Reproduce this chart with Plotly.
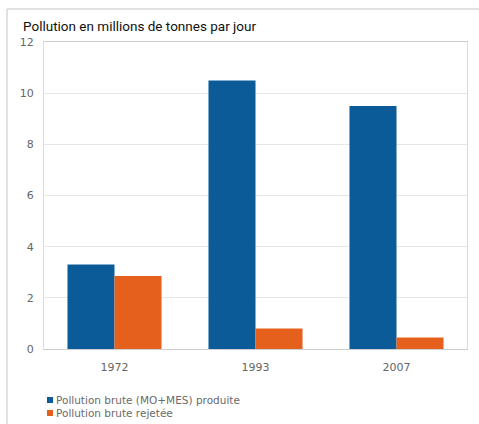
import plotly.graph_objects as go

years = ["1972", "1993", "2007"]
produite = [3.3, 10.5, 9.5]
rejetee = [2.85, 0.8, 0.45]
y_ticks = [0, 2, 4, 6, 8, 10, 12]

series_names = ["Pollution brute (MO+MES) produite", "Pollution brute rejetée"]
colors = ["#0b5b98", "#e5601d"]

fig = go.Figure()
fig.add_trace(go.Bar(x=years, y=produite, name=series_names[0],
                     marker=dict(color=colors[0], line=dict(width=0))))
fig.add_trace(go.Bar(x=years, y=rejetee, name=series_names[1],
                     marker=dict(color=colors[1], line=dict(width=0))))

W, H = 479, 424
L, R, T, B = 44, 12, 42, 75
pw, ph = W - L - R, H - T - B

def px_x(p):
    return (p - L) / pw

def px_y(p):
    return (H - B - p) / ph

# compact legend: small colour square followed by its label
legend_shapes, legend_notes = [], []
for i, (name, col) in enumerate(zip(series_names, colors)):
    cy = 400 + 13 * i
    legend_shapes.append(dict(type="rect", xref="paper", yref="paper",
                              x0=px_x(47), x1=px_x(53), y0=px_y(cy + 3), y1=px_y(cy - 3),
                              fillcolor=col, line=dict(width=0)))
    legend_notes.append(dict(text=name, xref="paper", yref="paper",
                             x=px_x(54), y=px_y(cy), xanchor="left", yanchor="middle",
                             showarrow=False,
                             font=dict(family="DejaVu Sans, sans-serif", size=10.5,
                                       color="#6a6a6a")))

fig.update_layout(
    width=W, height=H,
    margin=dict(l=L, r=R, t=T, b=B, pad=0, autoexpand=False),
    paper_bgcolor="white", plot_bgcolor="white",
    barmode="group", bargap=0.333, bargroupgap=0,
    font=dict(family="DejaVu Sans, sans-serif", size=10, color="#666666"),
    showlegend=False,
    xaxis=dict(showgrid=False, showline=True, linecolor="#cfcfcf", linewidth=1,
               mirror=True, ticks="", tickfont=dict(size=11, color="#666666"),
               ticklabelstandoff=8),
    yaxis=dict(range=[0, 12], tickvals=y_ticks, showgrid=True, gridcolor="#e6e6e6",
               gridwidth=1, showline=True, linecolor="#dcdcdc", mirror=True,
               zeroline=False, ticks="", tickfont=dict(size=11, color="#666666"),
               ticklabelstandoff=7),
    annotations=[dict(text="Pollution en millions de tonnes par jour",
                      xref="paper", yref="paper", x=px_x(21), y=px_y(26),
                      xanchor="left", yanchor="middle", showarrow=False,
                      font=dict(family="Roboto, sans-serif", size=13.5, color="#111111"))]
                + legend_notes,
    shapes=[
        dict(type="line", xref="paper", yref="paper", x0=px_x(7), x1=px_x(W),
             y0=px_y(9), y1=px_y(9), line=dict(color="#c4c4c4", width=1)),
        dict(type="line", xref="paper", yref="paper", x0=px_x(7), x1=px_x(7),
             y0=px_y(9), y1=px_y(H), line=dict(color="#c4c4c4", width=1)),
    ] + legend_shapes,
)

fig.write_html("out.html")
